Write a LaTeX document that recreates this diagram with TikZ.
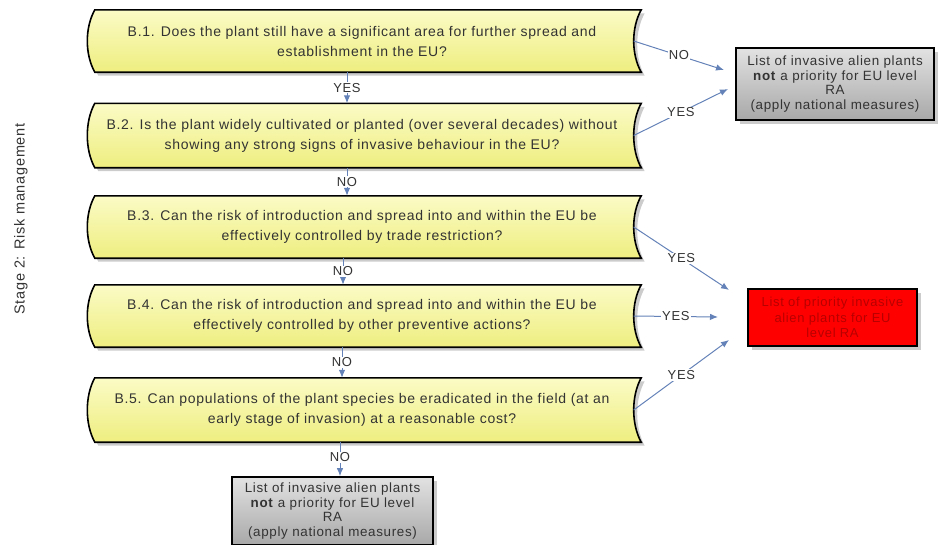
\documentclass[tikz,border=0pt]{standalone}
\usepackage{fontspec}
\setmainfont{Liberation Sans}[LetterSpace=5]
\usetikzlibrary{calc,backgrounds,arrows.meta}
\definecolor{arrowblue}{HTML}{6482B8}
\definecolor{txtgray}{HTML}{333333}
\definecolor{yellowtop}{HTML}{FBFBC6}
\definecolor{yellowbot}{HTML}{EEEE80}
\definecolor{graytop}{HTML}{E2E2E2}
\definecolor{graybot}{HTML}{A8A8A8}
\definecolor{redtext}{HTML}{B80000}
\newcommand\qshape[1]{%
  \path[yshape] ($(#1.north west)+(6,0)$) -- ($(#1.north east)+(6,0)$)
    .. controls ($(#1.north east)+(-4,18)$) and ($(#1.south east)+(-4,-18)$) .. ($(#1.south east)+(6,0)$)
    -- ($(#1.south west)+(6,0)$)
    .. controls ($(#1.south west)+(-4,-18)$) and ($(#1.north west)+(-4,18)$) .. ($(#1.north west)+(6,0)$) -- cycle;}
\begin{document}
\begin{tikzpicture}[x=1pt,y=-1pt,
  qtext/.style={text=txtgray, font=\fontsize{14}{20}\selectfont, align=center,
    minimum width=546pt, minimum height=62pt, inner sep=0pt},
  yshape/.style={draw=black, line width=1.6pt, top color=yellowtop, bottom color=yellowbot,
    preaction={fill=black!20, transform canvas={xshift=3.5pt,yshift=-3.5pt}}},
  graybox/.style={draw=black, line width=1.6pt, top color=graytop, bottom color=graybot,
    text=txtgray, font=\fontsize{13.4}{14.6}\selectfont, align=center, inner sep=0pt,
    minimum width=198pt, minimum height=72pt,
    preaction={fill=black!20, transform canvas={xshift=3.5pt,yshift=-3.5pt}}},
  redbox/.style={draw=black, line width=1.6pt, fill=red, text=redtext,
    font=\fontsize{13}{15.5}\selectfont, align=center, inner sep=0pt,
    minimum width=169pt, minimum height=57pt,
    preaction={fill=black!20, transform canvas={xshift=3.5pt,yshift=-3.5pt}}},
  lbl/.style={fill=white, inner sep=1pt, text=txtgray, font=\fontsize{13}{13}\selectfont},
  conn/.style={draw=arrowblue, line width=1pt, -{Latex[length=8pt,width=6.5pt]}}
]
\useasboundingbox (0,0) rectangle (949,544);
\clip (0,0) rectangle (949,544);

% side label
\node[rotate=90, text=txtgray, font=\fontsize{14.5}{14.5}\selectfont] (side) at (21,219) {Stage 2: Risk management};

% question boxes (text nodes; shapes drawn behind)
\node[qtext, minimum height=62pt] (b1) at (362,41) {B.1. Does the plant still have a significant area for further spread and\\establishment in the EU?};
\node[qtext, minimum height=64pt] (b2) at (362,135.5) {B.2. Is the plant widely cultivated or planted (over several decades) without\\showing any strong signs of invasive behaviour in the EU?};
\node[qtext, minimum height=62pt] (b3) at (362,227) {B.3. Can the risk of introduction and spread into and within the EU be\\effectively controlled by trade restriction?};
\node[qtext, minimum height=62pt] (b4) at (362,316) {B.4. Can the risk of introduction and spread into and within the EU be\\effectively controlled by other preventive actions?};
\node[qtext, minimum height=64pt] (b5) at (362,410) {B.5. Can populations of the plant species be eradicated in the field (at an\\early stage of invasion) at a reasonable cost?};

% outcome boxes
\node[graybox] (notop) at (835,84) {List of invasive alien plants\\\textbf{not} a priority for EU level\\RA\\(apply national measures)};
\node[graybox, minimum width=201pt, minimum height=68pt] (notbot) at (332.5,511) {List of invasive alien plants\\\textbf{not} a priority for EU level\\RA\\(apply national measures)};
\node[redbox] (prio) at (832.5,317.5) {List of priority invasive\\alien plants for EU\\level RA};

% shapes behind the question texts
\begin{scope}[on background layer]
  \qshape{b1}\qshape{b2}\qshape{b3}\qshape{b4}\qshape{b5}
\end{scope}

% free arrow ends
\coordinate (t1) at (724,70);
\coordinate (t2) at (728,89);
\coordinate (t3) at (729,290);
\coordinate (t4) at (718,317);
\coordinate (t5) at (729,340);

% vertical connectors
\draw[conn] ([xshift=-15pt]b1.south) -- node[lbl]{YES} ([xshift=-15pt]b2.north);
\draw[conn] ([xshift=-15pt]b2.south) -- node[lbl]{NO} ([xshift=-15pt]b3.north);
\draw[conn] ([xshift=-19pt]b3.south) -- node[lbl]{NO} ([xshift=-19pt]b4.north);
\draw[conn] ([xshift=-20pt]b4.south) -- node[lbl]{NO} ([xshift=-20pt]b5.north);
\draw[conn] ([xshift=-22pt]b5.south) -- node[lbl, pos=0.45]{NO} ([xshift=7.5pt]notbot.north);

% side connectors
\draw[conn] ([xshift=-1.5pt]b1.east) -- node[lbl, pos=0.5]{NO} (t1);
\draw[conn] ([xshift=-1.5pt]b2.east) -- node[lbl, pos=0.5]{YES} (t2);
\draw[conn] ([xshift=-1.5pt]b3.east) -- node[lbl, pos=0.5]{YES} (t3);
\draw[conn] ([xshift=-1.5pt]b4.east) -- node[lbl, pos=0.5]{YES} (t4);
\draw[conn] ([xshift=-1.5pt]b5.east) -- node[lbl, pos=0.5]{YES} (t5);
\end{tikzpicture}
\end{document}
